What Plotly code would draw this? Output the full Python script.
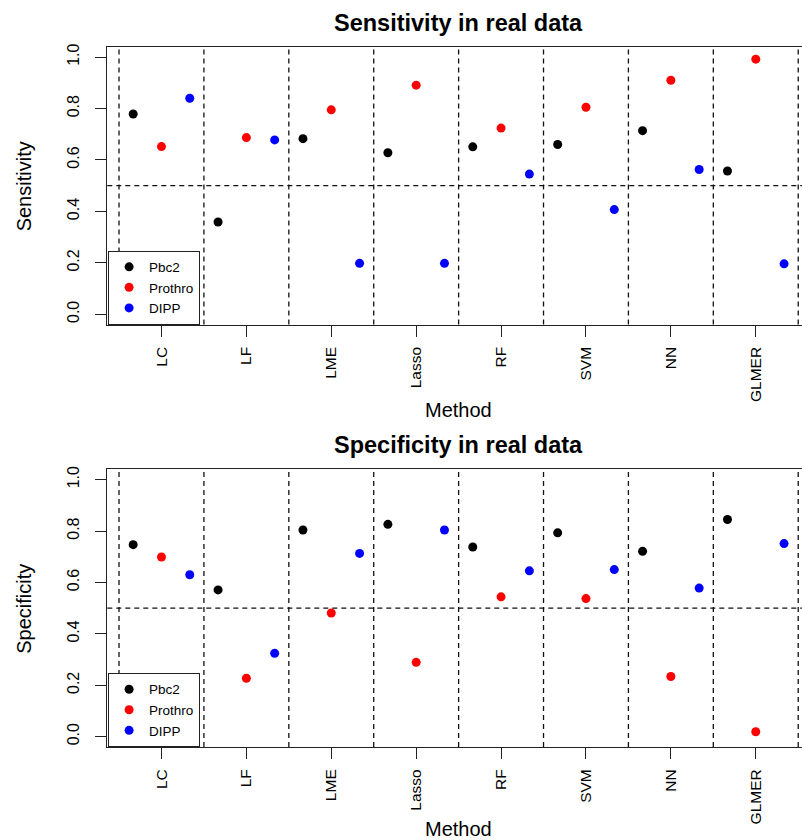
import numpy as np
import plotly.graph_objects as go

methods = ["LC", "LF", "LME", "Lasso", "RF", "SVM", "NN", "GLMER"]
series_names = ["Pbc2", "Prothro", "DIPP"]
series_colors = ["#000000", "#FF0000", "#0000FF"]

sens_pbc2 = [0.779, 0.359, 0.683, 0.628, 0.651, 0.660, 0.714, 0.557]
sens_prothro = [0.652, 0.687, 0.795, 0.891, 0.724, 0.805, 0.910, 0.992]
sens_dipp = [0.840, 0.678, 0.198, 0.198, 0.545, 0.407, 0.563, 0.196]

spec_pbc2 = [0.747, 0.571, 0.804, 0.826, 0.738, 0.793, 0.721, 0.845]
spec_prothro = [0.699, 0.227, 0.481, 0.289, 0.544, 0.537, 0.234, 0.019]
spec_dipp = [0.630, 0.324, 0.713, 0.804, 0.645, 0.650, 0.578, 0.751]

y_ticks = [0.0, 0.2, 0.4, 0.6, 0.8, 1.0]
y_tick_labels = ["0.0", "0.2", "0.4", "0.6", "0.8", "1.0"]

W, H = 802, 840
FONT = "Liberation Sans, Arial, sans-serif"

pos = np.arange(1, len(methods) + 1)
offsets = [-1/3, 0.0, 1/3]

fig = go.Figure()

panels = [
    ("x", "y", "legend", [sens_pbc2, sens_prothro, sens_dipp]),
    ("x2", "y2", "legend2", [spec_pbc2, spec_prothro, spec_dipp]),
]
for xa, ya, leg, vals in panels:
    for name, col, off, v in zip(series_names, series_colors, offsets, vals):
        fig.add_trace(go.Scatter(
            x=pos + off, y=v, mode="markers", name=name,
            marker=dict(color=col, size=9, line=dict(width=0)),
            xaxis=xa, yaxis=ya, legend=leg, showlegend=True,
            hovertemplate=name + ": %{y:.3f}<extra></extra>",
        ))

x_left = 107.3 / W
x_range = [0.362, 0.362 + (W - 107.3) / 84.9]

def ydom(top_px, bot_px):
    return [1 - bot_px / H, 1 - top_px / H]

dom1 = ydom(44, 322.7)
dom2 = ydom(468, 746.6)

xcommon = dict(
    range=x_range, domain=[x_left, 1.0], tickmode="array",
    tickvals=list(pos), ticktext=methods, tickangle=-90,
    ticks="outside", ticklen=11, tickwidth=1, tickcolor="#222",
    showline=True, linecolor="#222", linewidth=1.3, mirror=True,
    showgrid=False, zeroline=False,
    tickfont=dict(family=FONT, size=15.5, color="#000"),
    ticklabelstandoff=4,
)
ycommon = dict(
    range=[-0.04, 1.04], tickmode="array", tickvals=y_ticks,
    ticktext=y_tick_labels, tickangle=-90,
    ticks="outside", ticklen=11, tickwidth=1, tickcolor="#222",
    showline=True, linecolor="#222", linewidth=1.3, mirror=False,
    showgrid=False, zeroline=False,
    tickfont=dict(family=FONT, size=16, color="#000"),
    ticklabelstandoff=10,
)

fig.update_layout(
    width=W, height=H,
    margin=dict(l=0, r=0, t=0, b=0),
    paper_bgcolor="white", plot_bgcolor="white",
    xaxis=dict(**xcommon, anchor="y"),
    yaxis=dict(**ycommon, domain=dom1, anchor="x"),
    xaxis2=dict(**xcommon, anchor="y2"),
    yaxis2=dict(**ycommon, domain=dom2, anchor="x2"),
    font=dict(family=FONT, color="#000"),
)

legcommon = dict(
    xanchor="left", yanchor="bottom", x=x_left + 0.001,
    bgcolor="white", bordercolor="#222", borderwidth=1,
    font=dict(family=FONT, size=13.5, color="#000"),
    itemsizing="trace", tracegroupgap=0, itemwidth=30,
    traceorder="normal",
)
fig.update_layout(
    legend=dict(**legcommon, y=dom1[0]),
    legend2=dict(**legcommon, y=dom2[0]),
)

shapes = []
for xa, ya in [("x", "y"), ("x2", "y2")]:
    for b in np.arange(0.5, len(methods) + 1, 1.0):
        shapes.append(dict(type="line", xref=xa, yref=ya + " domain",
                           x0=b, x1=b, y0=0, y1=1, layer="below",
                           line=dict(color="#111", width=1.3, dash="5px,4px")))
    shapes.append(dict(type="line", xref=xa + " domain", yref=ya,
                       x0=0, x1=1, y0=0.5, y1=0.5, layer="below",
                       line=dict(color="#111", width=1.3, dash="5px,4px")))
fig.update_layout(shapes=shapes)

xc = (107.3 + 810) / 2 / W
ann = []
for title, ylab, off, meth_y in [("Sensitivity in real data", "Sensitivity", 0, 408),
                                 ("Specificity in real data", "Specificity", 424, 829)]:
    ann.append(dict(text=title, x=xc, y=1 - (20 + off) / H, xref="paper", yref="paper",
                    xanchor="center", yanchor="middle", showarrow=False,
                    font=dict(family=FONT, size=23.5, color="#000", weight="bold")))
    ann.append(dict(text="Method", x=xc, y=1 - meth_y / H, xref="paper", yref="paper",
                    xanchor="center", yanchor="middle", showarrow=False,
                    font=dict(family=FONT, size=20, color="#000")))
    ann.append(dict(text=ylab, x=24 / W, y=1 - (184 + off) / H, xref="paper", yref="paper",
                    xanchor="center", yanchor="middle", showarrow=False, textangle=-90,
                    font=dict(family=FONT, size=20, color="#000")))
fig.update_layout(annotations=ann)

fig.write_html("out.html",
               config={"displayModeBar": False},
               post_script="document.body.style.margin='0';document.body.style.padding='0';")
